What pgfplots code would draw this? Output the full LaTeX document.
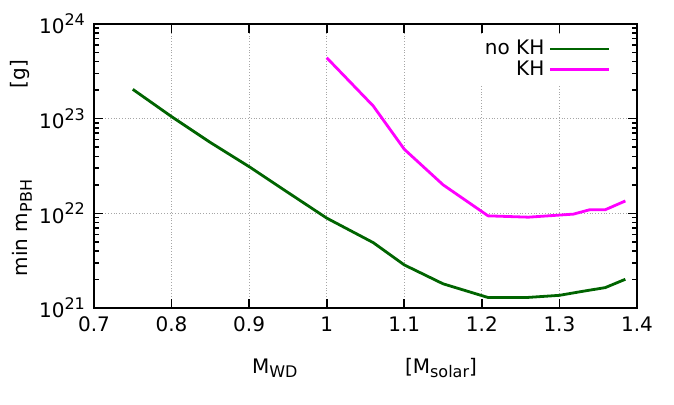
\documentclass[border=0pt]{standalone}
\usepackage{fontspec}
\setmainfont{DejaVu Sans}
\usepackage{pgfplots}
\pgfplotsset{compat=1.18}

\definecolor{gpgreen}{RGB}{0,100,0}
\definecolor{gpmag}{RGB}{255,0,255}

\newcommand{\sups}[1]{\raisebox{0.42em}{\fontsize{8}{8}\selectfont #1}}
\newcommand{\subs}[1]{\raisebox{-0.22em}{\fontsize{8}{8}\selectfont #1}}

\begin{document}
\begin{tikzpicture}
\fontsize{10}{12}\selectfont
\useasboundingbox (-47pt,-48.5pt) rectangle (290pt,154pt);
\begin{axis}[
    scale only axis,
    width=271.5pt, height=142pt,
    ymode=log,
    xmin=0.7, xmax=1.4,
    ymin=1e21, ymax=1e24,
    xtick={0.7,0.8,0.9,1.0,1.1,1.2,1.3,1.4},
    xticklabels={0.7,0.8,0.9,1,1.1,1.2,1.3,1.4},
    ytick={1e21,1e22,1e23,1e24},
    yticklabels={10\sups{21},10\sups{22},10\sups{23},10\sups{24}},
    tick align=inside,
    major tick length=4.5pt,
    minor tick length=2.3pt,
    axis line style={line width=0.8pt},
    every tick/.style={black, line width=0.8pt},
    grid=major,
    major grid style={gray!70, densely dotted, line width=0.5pt},
    ticklabel style={font=\fontsize{10}{12}\selectfont},
    xticklabel style={yshift=-1pt},
    yticklabel style={xshift=-1pt},
    clip=false,
    legend plot pos=right,
    legend cell align=right,
    legend style={at={(0.955,0.965)}, anchor=north east, draw=none, fill=white,
        font=\fontsize{10}{12}\selectfont, row sep=-2.5pt, inner sep=1pt},
    legend image code/.code={\draw[#1] (0pt,0pt) -- (29.5pt,0pt);},
]
\addplot[gpgreen, line width=1.4pt] coordinates {
    (0.75,2.04e23) (0.80,1.05e23) (0.85,5.6e22) (0.90,3.11e22) (0.95,1.66e22)
    (1.00,8.9e21) (1.06,4.9e21) (1.10,2.85e21) (1.15,1.80e21) (1.208,1.29e21)
    (1.258,1.29e21) (1.30,1.36e21) (1.33,1.5e21) (1.359,1.64e21) (1.385,2.01e21)
};
\addlegendentry{no KH}
\addplot[gpmag, line width=1.4pt] coordinates {
    (1.00,4.4e23) (1.06,1.36e23) (1.10,4.75e22) (1.15,2.0e22) (1.208,9.4e21)
    (1.26,9.1e21) (1.318,9.8e21) (1.339,1.09e22) (1.359,1.09e22) (1.385,1.35e22)
};
\addlegendentry{KH}
\node[xshift=-36pt, yshift=40pt, rotate=90] at (rel axis cs:0,0) {min m\subs{PBH}};
\node[xshift=-37pt, yshift=117pt, rotate=90] at (rel axis cs:0,0) {[g]};
\node[yshift=-30pt] at (rel axis cs:0.333,0) {M\subs{WD}};
\node[yshift=-30pt] at (rel axis cs:0.639,0) {[M\subs{solar}]};
\end{axis}
\end{tikzpicture}
\end{document}
